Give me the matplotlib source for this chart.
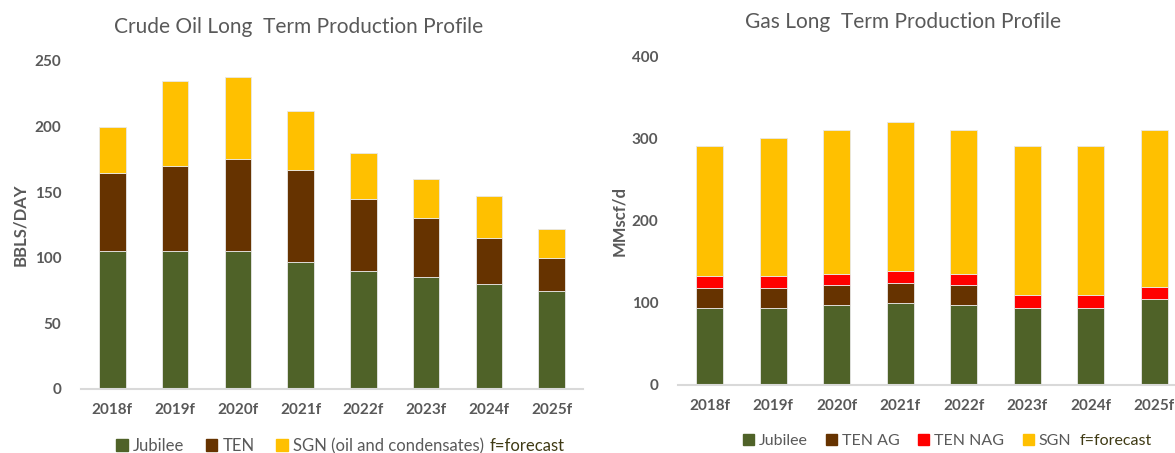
import numpy as np
import matplotlib.pyplot as plt
from matplotlib.patches import Patch

plt.rcParams['font.family'] = ['Lato', 'DejaVu Sans']

years = ['2018f', '2019f', '2020f', '2021f', '2022f', '2023f', '2024f', '2025f']

# crude oil (stacked tops, converted to segments)
oil_jubilee = [105, 105, 105, 97, 90, 85, 80, 75]
oil_ten = [60, 65, 70, 70, 55, 45, 35, 25]
oil_sgn = [35, 65, 63, 45, 35, 30, 32, 22]

# gas
gas_jubilee = [94, 94, 97, 100, 97, 94, 94, 104]
gas_ten_ag = [24, 24, 24, 24, 24, 0, 0, 0]
gas_ten_nag = [15, 15, 14, 15, 14, 16, 16, 15]
gas_sgn = [157, 167, 175, 181, 175, 180, 180, 191]

GREEN = '#4F6228'
BROWN = '#663300'
RED = '#FF0000'
GOLD = '#FFC000'
GREY = '#595959'
OLIVE = '#3F3A14'

fig = plt.figure(figsize=(11.75, 4.53), dpi=100)
W, H = 1175, 453


def make_axes(x0, x1, y_top, y_base):
    return fig.add_axes([x0 / W, (H - y_base) / H, (x1 - x0) / W, (y_base - y_top) / H])


def style(ax, ymax, step, ylabel, lab_x):
    ax.set_xlim(-0.5, 7.5)
    ax.set_ylim(0, ymax)
    ax.set_yticks(np.arange(0, ymax + 1, step))
    for s in ['top', 'right', 'left']:
        ax.spines[s].set_visible(False)
    ax.spines['bottom'].set_color('#D9D9D9')
    ax.spines['bottom'].set_linewidth(1.5)
    ax.tick_params(length=0, labelsize=11, labelcolor=GREY, pad=10)
    ax.tick_params(axis='y', pad=14)
    for lab in ax.get_xticklabels() + ax.get_yticklabels():
        lab.set_fontweight('bold')
    ax.set_ylabel(ylabel, fontsize=12, fontweight='bold', color=GREY)
    ax.yaxis.set_label_coords(lab_x, 0.5)


def legend(handles, labels, x_px, y_px, fc_x, size, spacing):
    fig.legend(handles, labels, ncol=len(labels), frameon=False, fontsize=size, labelcolor=GREY,
               handlelength=0.7, handleheight=0.7, handletextpad=0.3, columnspacing=spacing,
               borderpad=0, borderaxespad=0,
               loc='center left', bbox_to_anchor=(x_px / W, 1 - y_px / H))
    fig.text(fc_x / W, 1 - y_px / H, 'f=forecast', fontsize=size, color=OLIVE, va='center')


x = np.arange(len(years))
bw = 0.42

# ---- crude oil ----
ax1 = make_axes(81, 583, 61, 389)
b = np.zeros(len(years))
for vals, col in [(oil_jubilee, GREEN), (oil_ten, BROWN), (oil_sgn, GOLD)]:
    ax1.bar(x, vals, bw, bottom=b, color=col, edgecolor='#E8E8E8', linewidth=0.6)
    b += np.array(vals)
ax1.set_xticks(x, years)
style(ax1, 250, 50, 'BBLS/DAY', -0.105)
fig.text(299 / W, 1 - 27 / H, 'Crude Oil Long  Term Production Profile', fontsize=15,
         color=GREY, ha='center', va='center')
legend([Patch(color=GREEN), Patch(color=BROWN), Patch(color=GOLD)],
       ['Jubilee', 'TEN', 'SGN (oil and condensates)'], 116, 446, 490, 12, 1.3)

# ---- gas ----
ax2 = make_axes(678, 1186, 56, 385)
b = np.zeros(len(years))
for vals, col in [(gas_jubilee, GREEN), (gas_ten_ag, BROWN), (gas_ten_nag, RED), (gas_sgn, GOLD)]:
    ax2.bar(x, vals, bw, bottom=b, color=col, edgecolor='#E8E8E8', linewidth=0.6)
    b += np.array(vals)
ax2.set_xticks(x, years)
style(ax2, 400, 100, 'MMscf/d', -0.10)
fig.text(903 / W, 1 - 22 / H, 'Gas Long  Term Production Profile', fontsize=15,
         color=GREY, ha='center', va='center')
legend([Patch(color=GREEN), Patch(color=BROWN), Patch(color=RED), Patch(color=GOLD)],
       ['Jubilee', 'TEN AG', 'TEN NAG', 'SGN'], 743, 441, 1080, 11.5, 1.15)

fig.savefig('out.png', dpi=100)
